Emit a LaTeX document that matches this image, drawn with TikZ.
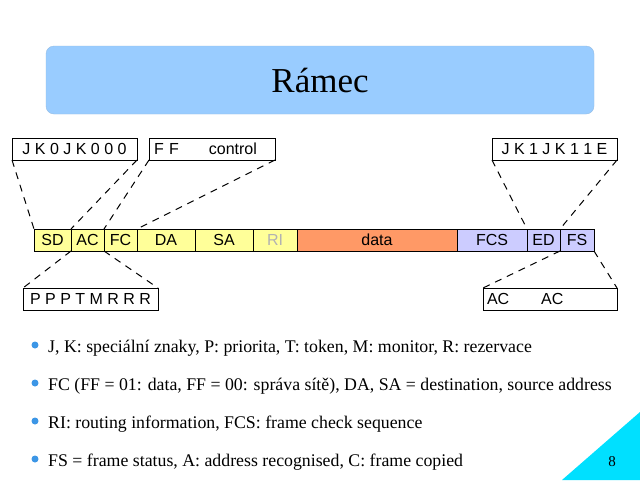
\documentclass[tikz,border=0pt]{standalone}
\usepackage{fontspec}
\setmainfont{Liberation Serif}
\setsansfont{Liberation Sans}
\usetikzlibrary{positioning}
\definecolor{titleblue}{RGB}{153,204,255}
\definecolor{fieldyellow}{RGB}{255,255,153}
\definecolor{fieldorange}{RGB}{255,153,102}
\definecolor{fieldblue}{RGB}{204,204,255}
\definecolor{bulletblue}{RGB}{60,150,230}
\definecolor{cornercyan}{RGB}{0,224,255}

\begin{document}
\begin{tikzpicture}[x=1pt, y=-1pt, node distance=0pt,
        field/.style={rectangle, draw, line width=1pt, outer sep=0pt, fill=fieldyellow, minimum height=22pt, inner sep=0pt, font=\sffamily\fontsize{16}{18}\selectfont},
        bits/.style={rectangle, draw, line width=1pt, outer sep=0pt, minimum height=22pt, inner sep=0pt, anchor=north west, font=\sffamily\fontsize{16}{18}\selectfont},
        link/.style={draw, line width=1pt, dash pattern=on 7pt off 6pt},
        item/.style={anchor=base west, inner sep=0pt, font=\fontsize{17.8}{20}\selectfont}]

        \path[use as bounding box, fill=white] (0,0) rectangle (640,480);

        % Title
        \node [rectangle, rounded corners=8pt, fill=titleblue, draw=titleblue!80!gray, minimum width=548pt, minimum height=68pt, font=\fontsize{35}{40}\selectfont] (title) at (320,80) {Rámec};

        % Frame fields
        \node [field, minimum width=37pt, anchor=north west] (sd) at (34,229) {SD};
        \node [field, minimum width=33pt, right=of sd] (ac) {AC};
        \node [field, minimum width=33pt, right=of ac] (fc) {FC};
        \node [field, minimum width=58pt, right=of fc] (da) {DA};
        \node [field, minimum width=58pt, right=of da] (sa) {SA};
        \node [field, minimum width=44pt, right=of sa, text=gray!60] (ri) {RI};
        \node [field, minimum width=160pt, right=of ri, fill=fieldorange] (data) {data};
        \node [field, minimum width=70pt, right=of data, fill=fieldblue] (fcs) {FCS};
        \node [field, minimum width=33pt, right=of fcs, fill=fieldblue] (ed) {ED};
        \node [field, minimum width=34pt, right=of ed, fill=fieldblue] (fs) {FS};

        % Bit boxes
        \node [bits, minimum width=125pt] (sd bits) at (12,138) {J K 0 J K 0 0 0};
        \node [bits, text width=116pt, inner xsep=5pt, align=left] (fc bits) at (149,138) {F F\hspace{30pt}control};
        \node [bits, minimum width=125pt] (ed bits) at (492,138) {J K 1 J K 1 1 E};
        \node [bits, minimum width=135pt] (ac bits) at (23,288) {P P P T M R R R};
        \node [bits, text width=126pt, inner xsep=4pt, align=left] (fs bits) at (483,288) {AC\hspace{32pt}AC};

        % Links
        \path [link] (sd bits.south west) -- (sd.north west);
        \path [link] (sd bits.south east) -- (ac.north west);
        \path [link] (fc bits.south west) -- (fc.north west);
        \path [link] (fc bits.south east) -- (da.north west);
        \path [link] (ed bits.south west) -- (ed.north west);
        \path [link] (ed bits.south east) -- (fs.north west);
        \path [link] (ac.south west) -- (ac bits.north west);
        \path [link] (ac.south east) -- (ac bits.north east);
        \path [link] (fs.south west) -- (fs bits.north west);
        \path [link] (fs.south east) -- (fs bits.north east);

        % Notes
        \fill [bulletblue] (35,345) circle (3.5pt);
        \node [item] (note1) at (48,352) {J, K: speciální znaky, P: priorita, T: token, M: monitor, R: rezervace};
        \fill [bulletblue] (35,383) circle (3.5pt);
        \node [item] (note2) at (48,390) {FC (FF = 01: data, FF = 00: správa sítě), DA, SA = destination, source address};
        \fill [bulletblue] (35,421) circle (3.5pt);
        \node [item] (note3) at (48,428) {RI: routing information, FCS: frame check sequence};
        \fill [bulletblue] (35,459) circle (3.5pt);
        \node [item] (note4) at (48,466) {FS = frame status, A: address recognised, C: frame copied};

        % Corner
        \fill [cornercyan] (562,480) -- (640,412) -- (640,480) -- cycle;
        \node [font=\fontsize{15}{18}\selectfont] (page) at (612,462) {8};
    \end{tikzpicture}
\end{document}
